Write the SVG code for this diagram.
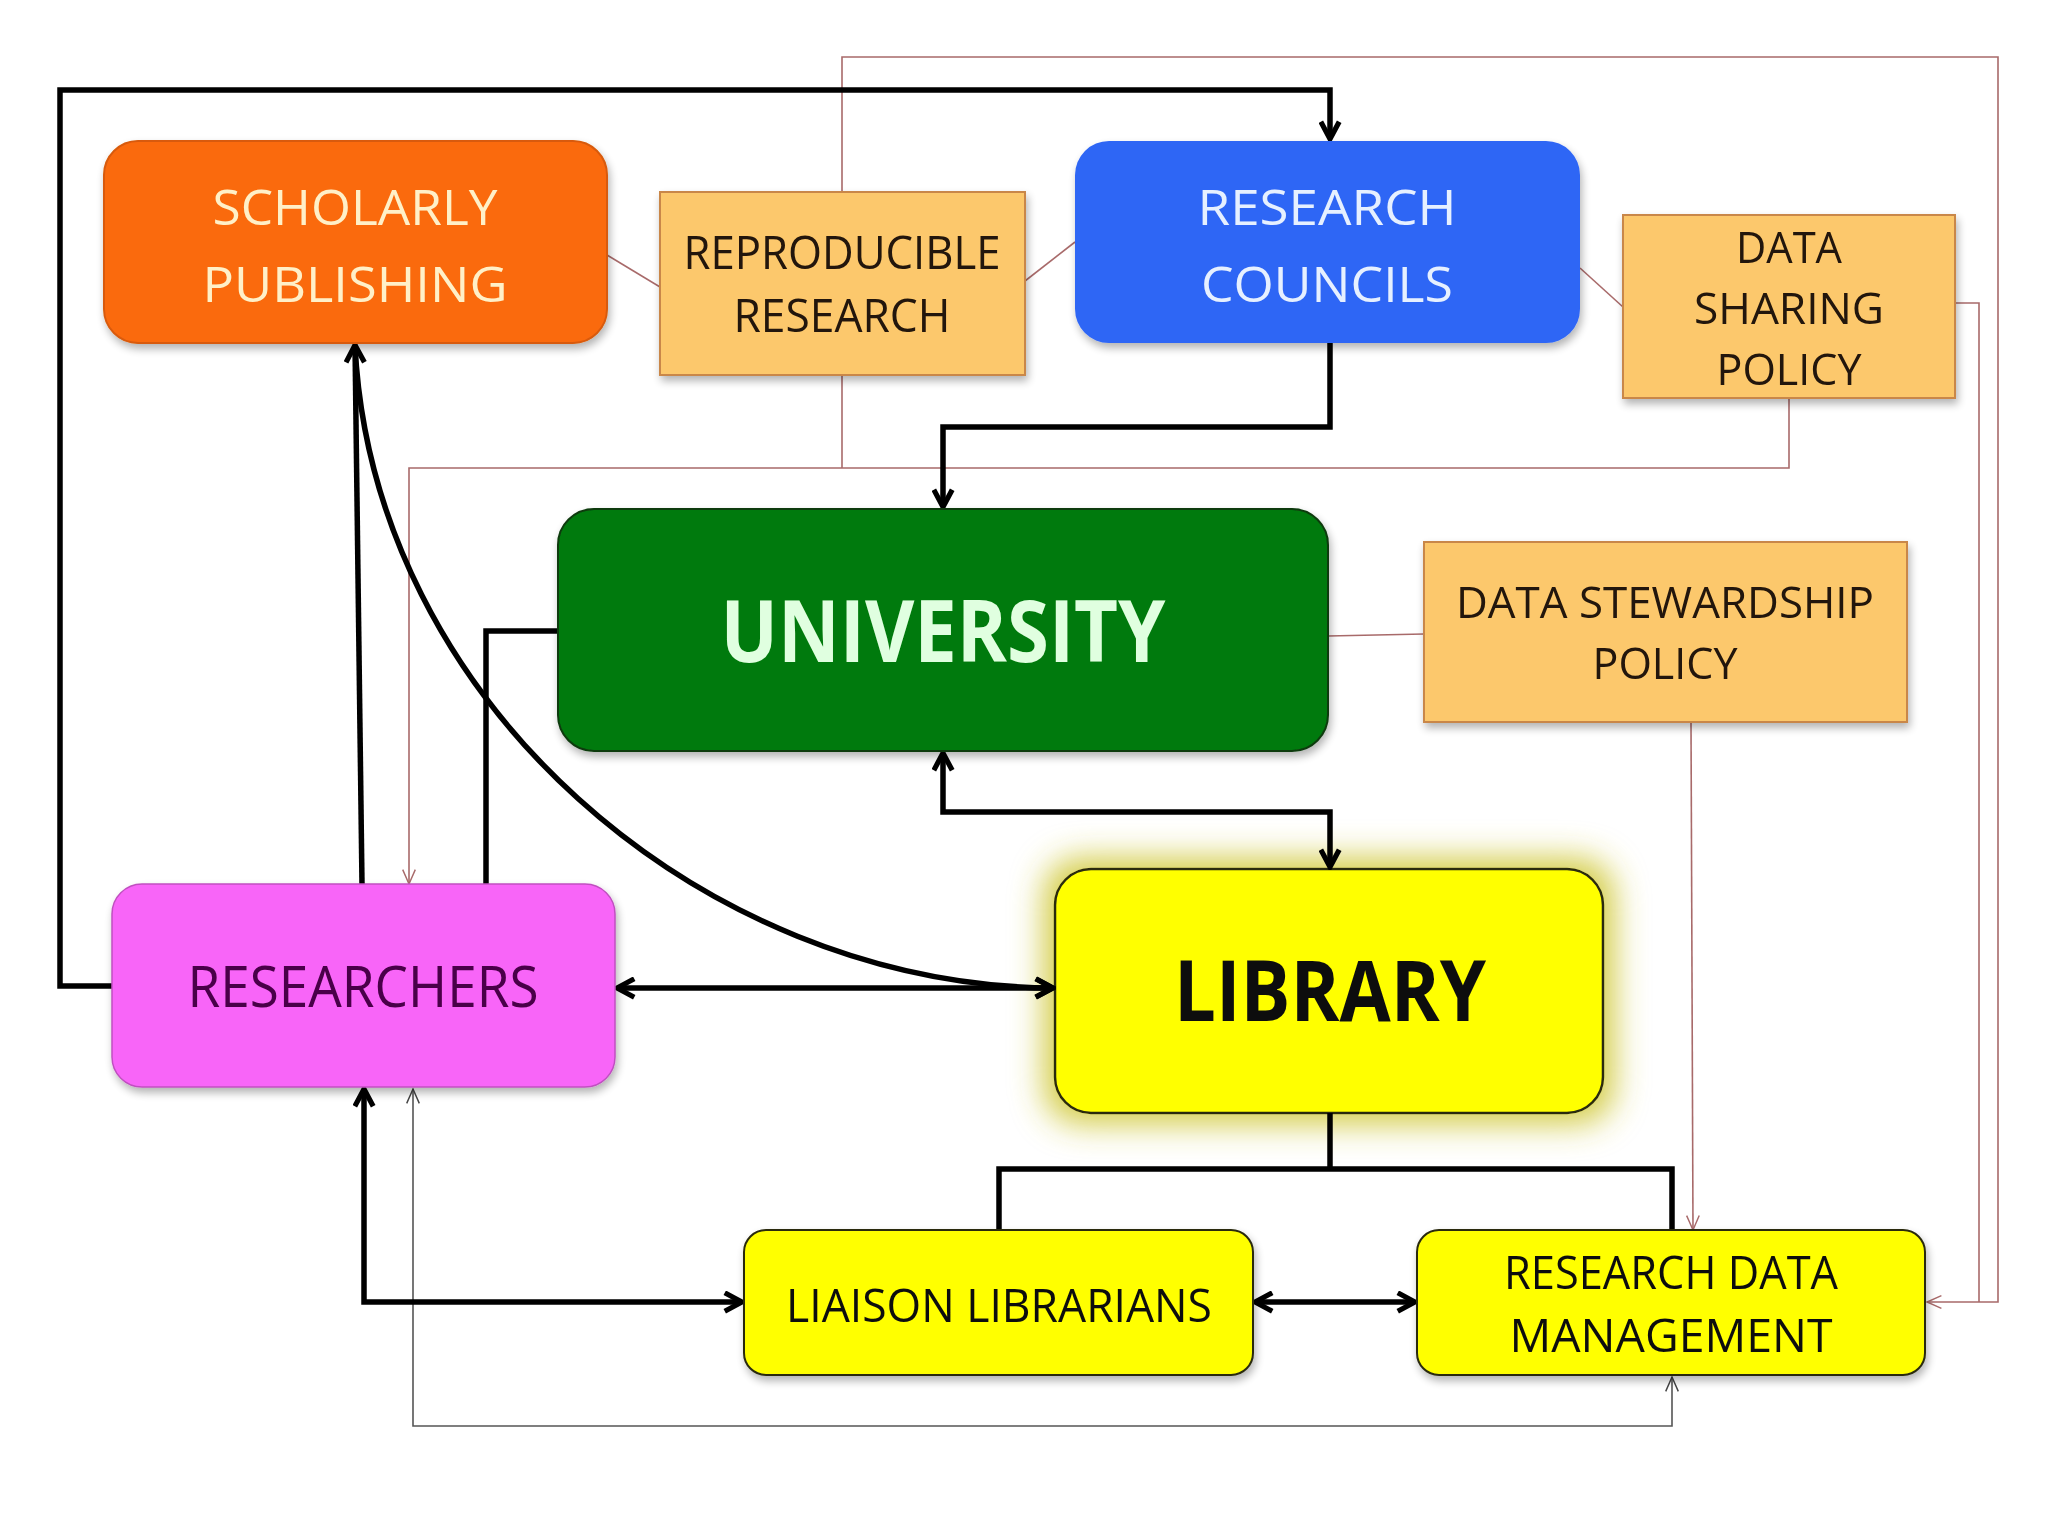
<svg xmlns="http://www.w3.org/2000/svg" width="2048" height="1536" viewBox="0 0 2048 1536">
<defs>
<style>
.t{font-family:"Open Sans","Liberation Sans",sans-serif;text-anchor:middle}
.thick{fill:none;stroke:#000;stroke-width:5.5;stroke-linejoin:miter}
.thin{fill:none;stroke:#A86A6A;stroke-width:1.6}
.gray{fill:none;stroke:#555;stroke-width:1.6}
.pol{fill:#FCC86C;stroke:#C9874A;stroke-width:2}
</style>
<marker id="ah" viewBox="0 0 20 20" refX="17" refY="10" markerWidth="23" markerHeight="23" markerUnits="userSpaceOnUse" orient="auto-start-reverse">
<path d="M2,2 L17,10 L2,18" fill="none" stroke="#000" stroke-width="4.5"/>
</marker>
<marker id="ahp" viewBox="0 0 20 20" refX="18" refY="10" markerWidth="18" markerHeight="18" markerUnits="userSpaceOnUse" orient="auto-start-reverse">
<path d="M2,3 L18,10 L2,17" fill="none" stroke="#A86A6A" stroke-width="1.6"/>
</marker>
<marker id="ahg" viewBox="0 0 20 20" refX="18" refY="10" markerWidth="18" markerHeight="18" markerUnits="userSpaceOnUse" orient="auto-start-reverse">
<path d="M2,3 L18,10 L2,17" fill="none" stroke="#444" stroke-width="1.6"/>
</marker>
<filter id="sh" x="-10%" y="-10%" width="120%" height="125%">
<feGaussianBlur in="SourceAlpha" stdDeviation="4"/>
<feOffset dx="2" dy="5" result="b"/>
<feComponentTransfer><feFuncA type="linear" slope="0.3"/></feComponentTransfer>
<feMerge><feMergeNode/><feMergeNode in="SourceGraphic"/></feMerge>
</filter>
<filter id="glow" x="-25%" y="-25%" width="150%" height="150%">
<feMorphology in="SourceAlpha" operator="dilate" radius="10" result="d"/>
<feFlood flood-color="#CFC630" flood-opacity="0.9"/>
<feComposite operator="in" in2="d"/>
<feGaussianBlur stdDeviation="16" result="g"/>
<feMerge><feMergeNode in="g"/><feMergeNode in="SourceGraphic"/></feMerge>
</filter>
</defs>
<rect width="2048" height="1536" fill="#fff"/>

<g id="library" filter="url(#glow)">
<rect x="1055" y="869" width="548" height="244" rx="36" fill="#FFFF00" stroke="#2A2A10" stroke-width="2.5"/>
<text class="t" x="1330" y="1021" font-size="84" font-weight="bold" fill="#111" textLength="312" lengthAdjust="spacingAndGlyphs">LIBRARY</text>
</g>

<g id="connectors">
<path class="thin" d="M842,192 V57 H1998 V1302 H1927" marker-end="url(#ahp)"/>
<path class="thin" d="M1955,303 H1979 V1302"/>
<path class="thin" d="M842,375 V468"/>
<path class="thin" d="M1789,398 V468 H409 V884" marker-end="url(#ahp)"/>
<path class="thin" d="M1691,722 L1693,1230" marker-end="url(#ahp)"/>
<path class="thin" d="M607,255 L660,287"/>
<path class="thin" d="M1025,281 L1075,242"/>
<path class="thin" d="M1580,268 L1623,307"/>
<path class="thin" d="M1328,636 L1424,634"/>
<path class="gray" d="M413,1089 V1426 H1672 V1377" marker-start="url(#ahg)" marker-end="url(#ahg)"/>
<path class="thick" d="M112,986 H60 V90 H1330 V139" marker-end="url(#ah)"/>
<path class="thick" d="M362,884 L355,345" marker-end="url(#ah)"/>
<path class="thick" d="M355,345 C372,700 700,985 1053,988" marker-end="url(#ah)"/>
<path class="thick" d="M1330,343 V427 H943 V507" marker-end="url(#ah)"/>
<path class="thick" d="M943,753 V812 H1330 V867" marker-start="url(#ah)" marker-end="url(#ah)"/>
<path class="thick" d="M558,631 H486 V884"/>
<path class="thick" d="M617,988 H1053" marker-start="url(#ah)" marker-end="url(#ah)"/>
<path class="thick" d="M1330,1113 V1169"/>
<path class="thick" d="M999,1230 V1169 H1672 V1230"/>
<path class="thick" d="M364,1089 V1302 H742" marker-start="url(#ah)" marker-end="url(#ah)"/>
<path class="thick" d="M1255,1302 H1415" marker-start="url(#ah)" marker-end="url(#ah)"/>
</g>

<g id="scholarly-publishing" filter="url(#sh)">
<rect x="104" y="141" width="503" height="202" rx="34" fill="#FA6A0A" stroke="#D85A08" stroke-width="2"/>
<text class="t" x="355" y="225" font-size="50" fill="#FFF0C8" textLength="285" lengthAdjust="spacingAndGlyphs">SCHOLARLY</text>
<text class="t" x="355" y="302" font-size="50" fill="#FFF0C8" textLength="305" lengthAdjust="spacingAndGlyphs">PUBLISHING</text>
</g>

<g id="reproducible-research" filter="url(#sh)">
<rect class="pol" x="660" y="192" width="365" height="183"/>
<text class="t" x="842" y="269" font-size="45" fill="#221408" textLength="317" lengthAdjust="spacingAndGlyphs">REPRODUCIBLE</text>
<text class="t" x="842" y="332" font-size="45" fill="#221408" textLength="217" lengthAdjust="spacingAndGlyphs">RESEARCH</text>
</g>

<g id="research-councils" filter="url(#sh)">
<rect x="1075" y="141" width="505" height="202" rx="34" fill="#2F66F5"/>
<text class="t" x="1327" y="225" font-size="50" fill="#E6F0FF" textLength="259" lengthAdjust="spacingAndGlyphs">RESEARCH</text>
<text class="t" x="1327" y="302" font-size="50" fill="#E6F0FF" textLength="252" lengthAdjust="spacingAndGlyphs">COUNCILS</text>
</g>

<g id="data-sharing-policy" filter="url(#sh)">
<rect class="pol" x="1623" y="215" width="332" height="183"/>
<text class="t" x="1789" y="263" font-size="44" fill="#221408" textLength="106" lengthAdjust="spacingAndGlyphs">DATA</text>
<text class="t" x="1789" y="324" font-size="44" fill="#221408" textLength="190" lengthAdjust="spacingAndGlyphs">SHARING</text>
<text class="t" x="1789" y="385" font-size="44" fill="#221408" textLength="145" lengthAdjust="spacingAndGlyphs">POLICY</text>
</g>

<g id="university" filter="url(#sh)">
<rect x="558" y="509" width="770" height="242" rx="36" fill="#047A0C" stroke="#0B3A0B" stroke-width="2"/>
<text class="t" x="943" y="662" font-size="86" font-weight="bold" fill="#E0FFE0" textLength="445" lengthAdjust="spacingAndGlyphs">UNIVERSITY</text>
</g>

<g id="data-stewardship-policy" filter="url(#sh)">
<rect class="pol" x="1424" y="542" width="483" height="180"/>
<text class="t" x="1665" y="618" font-size="44" fill="#221408" textLength="418" lengthAdjust="spacingAndGlyphs">DATA STEWARDSHIP</text>
<text class="t" x="1665" y="679" font-size="44" fill="#221408" textLength="145" lengthAdjust="spacingAndGlyphs">POLICY</text>
</g>

<g id="researchers" filter="url(#sh)">
<rect x="112" y="884" width="503" height="203" rx="30" fill="#F865F8" stroke="#C050C0" stroke-width="1.5"/>
<text class="t" x="363" y="1007" font-size="56" fill="#4A0048" textLength="351" lengthAdjust="spacingAndGlyphs">RESEARCHERS</text>
</g>

<g id="liaison-librarians" filter="url(#sh)">
<rect x="744" y="1230" width="509" height="145" rx="22" fill="#FFFF00" stroke="#2A2A10" stroke-width="2"/>
<text class="t" x="999" y="1322" font-size="46" fill="#111" textLength="426" lengthAdjust="spacingAndGlyphs">LIAISON LIBRARIANS</text>
</g>

<g id="research-data-management" filter="url(#sh)">
<rect x="1417" y="1230" width="508" height="145" rx="22" fill="#FFFF00" stroke="#2A2A10" stroke-width="2"/>
<text class="t" x="1671" y="1289" font-size="46" fill="#111" textLength="334" lengthAdjust="spacingAndGlyphs">RESEARCH DATA</text>
<text class="t" x="1671" y="1352" font-size="46" fill="#111" textLength="323" lengthAdjust="spacingAndGlyphs">MANAGEMENT</text>
</g>
</svg>
